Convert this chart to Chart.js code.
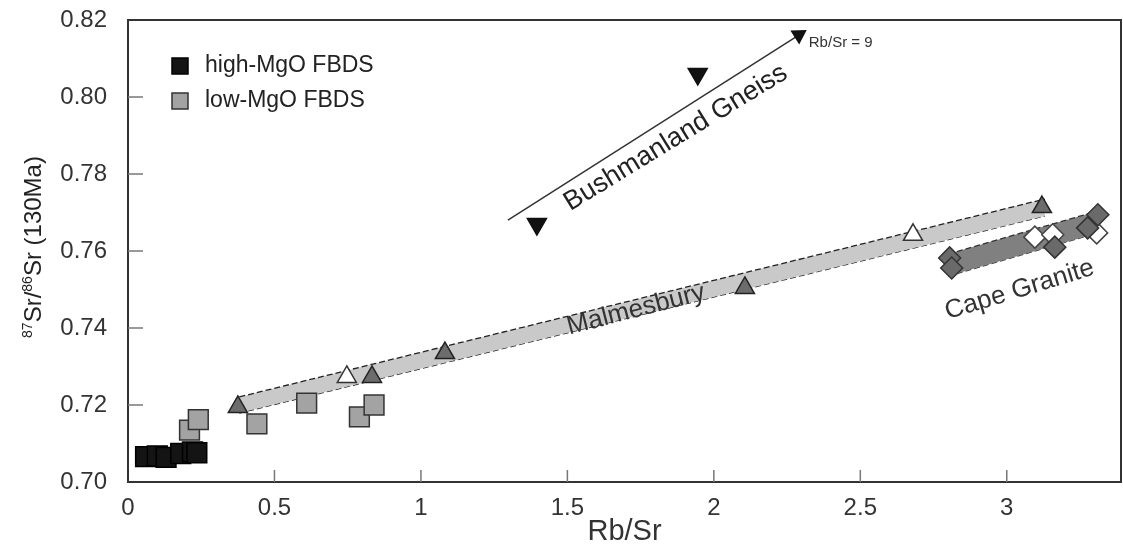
<!DOCTYPE html>
<html>
<head>
<meta charset="utf-8">
<script src="https://cdn.jsdelivr.net/npm/chart.js@4.4.0/dist/chart.umd.min.js"></script>
<style>
    html, body { margin: 0; padding: 0; background: #fff; overflow: hidden; }
    #wrap { width: 1123px; height: 549px; }
</style>
</head>
<body>
<div id="wrap"><canvas id="grafico"></canvas></div>
<script>
// ticks dos eixos
var xTicks = [0, 0.5, 1, 1.5, 2, 2.5, 3]
var yTicks = [0.70, 0.72, 0.74, 0.76, 0.78, 0.80, 0.82]

// FBDS
var highMgO = [[0.06, 0.7066], [0.10, 0.7068], [0.13, 0.7064], [0.18, 0.7074], [0.22, 0.7078], [0.235, 0.7076]]
var lowMgO = [[0.21, 0.7135], [0.24, 0.7162], [0.44, 0.7151], [0.61, 0.7205], [0.79, 0.7169], [0.84, 0.7200]]

// Malmesbury
var malmCheio = [[0.375, 0.7195], [0.833, 0.7273], [1.082, 0.7335], [2.106, 0.7504], [3.12, 0.7714]]
var malmVazio = [[0.747, 0.7273], [2.68, 0.7642]]
var malmTopo = [[0.38, 0.7221], [3.13, 0.7735]]
var malmBase = [[0.38, 0.7179], [3.13, 0.7691]]

// Bushmanland Gneiss
var bushman = [[1.396, 0.7670], [1.945, 0.8060]]
var bushSeta = [[1.297, 0.7680], [2.29, 0.8161]]

// Cape Granite
var capeCheio = [[2.805, 0.7582], [2.812, 0.7556], [3.164, 0.7610], [3.276, 0.7660], [3.311, 0.7694]]
var capeVazio = [[3.096, 0.7636], [3.157, 0.7642], [3.307, 0.7647]]
var capeTopo = [[2.80, 0.7592], [3.32, 0.7706]]
var capeBase = [[2.80, 0.7535], [3.32, 0.7649]]

var FONTE = "'Liberation Sans', Arial, sans-serif"

function pontos(lista) {
    return lista.map(p => ({ x: p[0], y: p[1] }))
}

function borda(lista, cor) {
    return {
        type: 'line',
        data: pontos(lista),
        borderColor: cor,
        borderWidth: 1.3,
        borderDash: [6, 3],
        pointRadius: 0,
        fill: false,
        order: 20
    }
}

function marcador(lista, estilo, raio, fundo, contorno, giro) {
    return {
        type: 'scatter',
        data: pontos(lista),
        pointStyle: estilo,
        pointRadius: raio,
        pointRotation: giro || 0,
        pointBackgroundColor: fundo,
        pointBorderColor: contorno,
        pointBorderWidth: 1.5,
        order: 1
    }
}

var faixaMalmTopo = borda(malmTopo, '#222')
faixaMalmTopo.fill = '+1'
faixaMalmTopo.backgroundColor = '#c9c9c9'
var faixaCapeTopo = borda(capeTopo, '#333')
faixaCapeTopo.fill = '+1'
faixaCapeTopo.backgroundColor = '#808080'

var seta = {
    type: 'line',
    data: pontos(bushSeta),
    borderColor: '#333',
    borderWidth: 1.5,
    pointStyle: 'triangle',
    pointRadius: [0, 8],
    pointRotation: [0, 57.6],
    pointBackgroundColor: '#111',
    pointBorderColor: '#111',
    fill: false,
    order: 5
}

// textos dentro do grafico (posicao em unidades dos eixos)
var rotulos = [
    { texto: 'Malmesbury', x: 1.734, y: 0.7447, ang: -14.5, tam: 26, cor: '#333' },
    { texto: 'Bushmanland Gneiss', x: 1.87, y: 0.7894, ang: -31.5, tam: 27, cor: '#222' },
    { texto: 'Cape Granite', x: 3.044, y: 0.7499, ang: -17, tam: 26, cor: '#333' }
]

const extras = {
    id: 'extras',
    beforeDatasetsDraw(chart) {
        const ctx = chart.ctx
        const a = chart.chartArea
        const sx = chart.scales.x
        const sy = chart.scales.y
        ctx.save()
        ctx.strokeStyle = '#333'
        ctx.lineWidth = 2
        ctx.strokeRect(a.left, a.top, a.right - a.left, a.bottom - a.top)
        // ticks para dentro
        ctx.strokeStyle = '#777'
        ctx.lineWidth = 1.5
        xTicks.forEach(v => {
            if (v == 0) return
            const px = sx.getPixelForValue(v)
            ctx.beginPath()
            ctx.moveTo(px, a.bottom)
            ctx.lineTo(px, a.bottom - 12)
            ctx.stroke()
        })
        yTicks.forEach(v => {
            if (v == 0.70 || v == 0.82) return
            const py = sy.getPixelForValue(v)
            ctx.beginPath()
            ctx.moveTo(a.left, py)
            ctx.lineTo(a.left + 15, py)
            ctx.stroke()
        })
        ctx.restore()
    },
    afterDatasetsDraw(chart) {
        const ctx = chart.ctx
        const sx = chart.scales.x
        const sy = chart.scales.y
        ctx.save()

        rotulos.forEach(r => {
            ctx.save()
            ctx.translate(sx.getPixelForValue(r.x), sy.getPixelForValue(r.y))
            ctx.rotate(r.ang * Math.PI / 180)
            ctx.font = r.tam + 'px ' + FONTE
            ctx.fillStyle = r.cor
            ctx.textAlign = 'center'
            ctx.textBaseline = 'middle'
            ctx.fillText(r.texto, 0, 0)
            ctx.restore()
        })

        // ponta da seta
        const fim = bushSeta[1]
        ctx.font = '15px ' + FONTE
        ctx.fillStyle = '#333'
        ctx.textAlign = 'left'
        ctx.textBaseline = 'middle'
        ctx.fillText('Rb/Sr = 9', sx.getPixelForValue(fim[0]) + 10, sy.getPixelForValue(fim[1]) + 8)

        // legenda
        const itens = [
            { nome: 'high-MgO FBDS', fundo: '#141414', contorno: '#000', y: 66 },
            { nome: 'low-MgO FBDS', fundo: '#a3a3a3', contorno: '#333', y: 101 }
        ]
        itens.forEach(it => {
            ctx.fillStyle = it.fundo
            ctx.strokeStyle = it.contorno
            ctx.lineWidth = 1.5
            ctx.fillRect(172, it.y - 8, 16, 16)
            ctx.strokeRect(172, it.y - 8, 16, 16)
            ctx.fillStyle = '#222'
            ctx.font = '23px ' + FONTE
            ctx.textAlign = 'left'
            ctx.textBaseline = 'middle'
            ctx.fillText(it.nome, 205, it.y)
        })

        // titulo do eixo y com sobrescritos
        const partes = [
            { t: '87', sup: true },
            { t: 'Sr/', sup: false },
            { t: '86', sup: true },
            { t: 'Sr (130Ma)', sup: false }
        ]
        const fMain = '24px ' + FONTE
        const fSup = '14px ' + FONTE
        let total = 0
        partes.forEach(p => {
            ctx.font = p.sup ? fSup : fMain
            p.w = ctx.measureText(p.t).width
            total += p.w
        })
        ctx.translate(33, 247)
        ctx.rotate(-Math.PI / 2)
        ctx.fillStyle = '#222'
        ctx.textAlign = 'left'
        ctx.textBaseline = 'alphabetic'
        let pos = -total / 2
        partes.forEach(p => {
            ctx.font = p.sup ? fSup : fMain
            ctx.fillText(p.t, pos, p.sup ? -1 : 8)
            pos += p.w
        })
        ctx.restore()
    }
}

const ctx = document.getElementById('grafico').getContext('2d')
const chart = new Chart(ctx, {
    type: 'scatter',
    data: {
        datasets: [
            faixaMalmTopo,
            borda(malmBase, '#222'),
            faixaCapeTopo,
            borda(capeBase, '#333'),
            seta,
            marcador(highMgO, 'rect', 14, '#141414', '#000'),
            marcador(lowMgO, 'rect', 14, '#a3a3a3', '#333'),
            marcador(malmCheio, 'triangle', 11, '#6c6c6c', '#222'),
            marcador(malmVazio, 'triangle', 11, '#ffffff', '#333'),
            marcador(bushman, 'triangle', 11, '#111', '#111', 180),
            marcador(capeCheio, 'rectRot', 11, '#6a6a6a', '#333'),
            marcador(capeVazio, 'rectRot', 11, '#ffffff', '#444')
        ]
    },
    options: {
        responsive: true,
        maintainAspectRatio: false,
        animation: false,
        events: [],
        layout: { autoPadding: false, padding: { top: 20, right: 2, left: 0, bottom: 0 } },
        plugins: {
            legend: { display: false },
            tooltip: { enabled: false }
        },
        scales: {
            x: {
                type: 'linear',
                min: 0,
                max: 3.39,
                afterBuildTicks: s => { s.ticks = xTicks.map(v => ({ value: v })) },
                afterFit: s => {
                    s.height = 67
                    s.paddingLeft = 0
                    s.paddingRight = 0
                },
                grid: { display: false, drawTicks: false },
                border: { display: false },
                ticks: {
                    padding: 12,
                    color: '#333',
                    font: { family: FONTE, size: 24 },
                    maxRotation: 0,
                    callback: v => String(v)
                },
                title: {
                    display: true,
                    text: 'Rb/Sr',
                    color: '#333',
                    font: { family: FONTE, size: 29 },
                    padding: { top: 0, bottom: 0 }
                }
            },
            y: {
                type: 'linear',
                min: 0.70,
                max: 0.82,
                afterBuildTicks: s => { s.ticks = yTicks.map(v => ({ value: v })) },
                afterFit: s => {
                    s.width = 128
                    s.paddingTop = 0
                    s.paddingBottom = 0
                },
                grid: { display: false, drawTicks: false },
                border: { display: false },
                ticks: {
                    padding: 21,
                    color: '#333',
                    font: { family: FONTE, size: 24 },
                    callback: v => v.toFixed(2)
                }
            }
        }
    },
    plugins: [extras]
})
</script>
</body>
</html>
